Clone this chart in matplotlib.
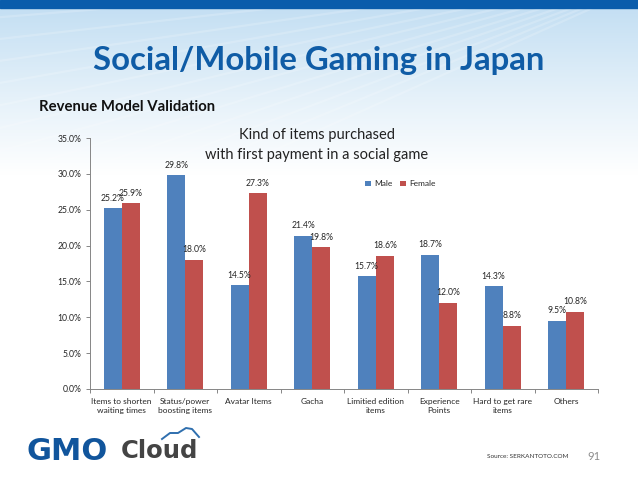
import matplotlib
matplotlib.use('Agg')

import numpy as np
import matplotlib.pyplot as plt
from matplotlib.colors import LinearSegmentedColormap
from matplotlib.patches import Rectangle

categories = ['Items to shorten\nwaiting times', 'Status/power\nboosting items', 'Avatar Items', 'Gacha',
              'Limitied edition\nitems', 'Experience\nPoints', 'Hard to get rare\nitems', 'Others']
male = [25.2, 29.8, 14.5, 21.4, 15.7, 18.7, 14.3, 9.5]
female = [25.9, 18.0, 27.3, 19.8, 18.6, 12.0, 8.8, 10.8]
yticks = [0, 5, 10, 15, 20, 25, 30, 35]

W, H = 638, 479
plt.rcParams['font.family'] = ['Lato', 'DejaVu Sans']

fig = plt.figure(figsize=(W / 100, H / 100), dpi=100)

# slide background, pixel coords with y going down
bg = fig.add_axes([0, 0, 1, 1])
bg.set_xlim(0, W)
bg.set_ylim(H, 0)
bg.axis('off')
cmap = LinearSegmentedColormap.from_list('sky', ['#c4dff3', '#e3f0f9', '#ffffff'])
grad = np.linspace(0, 1, 200).reshape(-1, 1)
bg.imshow(grad, cmap=cmap, extent=[0, W, 175, 8], aspect='auto', zorder=0)
bg.set_xlim(0, W)
bg.set_ylim(H, 0)
for a in np.linspace(0.02, 0.42, 14):
    bg.plot([700, 700 - 900 * np.cos(a)], [-40, -40 + 900 * np.sin(a)], color='white', lw=1.6, alpha=0.18, zorder=1)
bg.add_patch(Rectangle((0, 175), W, H - 175, color='white', zorder=2))
bg.add_patch(Rectangle((0, 0), W, 8, color='#0a5cab', zorder=3))

bg.text(319, 60, 'Social/Mobile Gaming in Japan', color='#0f5ca6', fontsize=23.7, fontweight='bold', ha='center', va='center', zorder=4)
bg.text(39, 107, 'Revenue Model Validation', color='#111111', fontsize=10.7, fontweight='bold', ha='left', va='center', zorder=4)
bg.text(317, 145, 'Kind of items purchased\nwith first payment in a social game', color='#222222', fontsize=10.5, ha='center', va='center', linespacing=1.5, zorder=4)

# footer
bg.text(27, 451, 'GMO', color='#11559c', fontsize=22, fontweight='bold', family='DejaVu Sans', ha='left', va='center', zorder=4)
bg.text(121, 451, 'Cloud', color='#444444', fontsize=17.5, fontweight='bold', family='DejaVu Sans', ha='left', va='center', zorder=4)
bg.plot([162, 170, 178, 186, 192, 199], [439, 433, 433, 428, 429, 437], color='#2f6fae', lw=1.4, zorder=4)
bg.text(528, 456, 'Source: SERKANTOTO.COM', color='#333333', fontsize=4.6, ha='center', va='center', zorder=4)
bg.text(594, 456, '91', color='#8c8c8c', fontsize=8, ha='center', va='center', zorder=4)

# chart
ax = fig.add_axes([90 / W, 1 - 389 / H, (598 - 90) / W, (389 - 138) / H])
ax.patch.set_alpha(0)
x = np.arange(len(categories))
w = 0.285
bars_m = ax.bar(x - w / 2, male, w, color='#4f81bd', label='Male')
bars_f = ax.bar(x + w / 2, female, w, color='#c0504d', label='Female')
for bars, vals in ((bars_m, male), (bars_f, female)):
    for bar, v in zip(bars, vals):
        ax.annotate(f'{v:.1f}%', (bar.get_x() + bar.get_width() / 2, v), xytext=(0, 7.2), textcoords='offset points',
                    ha='center', va='center', fontsize=6.2, color='#262626')

ax.set_xlim(-0.5, len(categories) - 0.5)
ax.set_ylim(0, 35)
ax.set_yticks(yticks)
ax.set_yticklabels([f'{t:.1f}%' for t in yticks], fontsize=6.2, color='#262626')
ax.set_xticks(np.arange(len(categories) + 1) - 0.5)
ax.set_xticklabels([])
ax.set_xticks(x, minor=True)
ax.set_xticklabels(categories, minor=True, fontsize=6, color='#262626', linespacing=1.4)
ax.tick_params(axis='x', which='minor', length=0, pad=6.5)
ax.tick_params(axis='both', which='major', length=3, width=0.7, color='#868686', pad=3)
ax.spines['top'].set_visible(False)
ax.spines['right'].set_visible(False)
for s in ('left', 'bottom'):
    ax.spines[s].set_color('#868686')
    ax.spines[s].set_linewidth(0.7)

ax.legend(loc='center', bbox_to_anchor=((400 - 90) / 508, (389 - 184) / 251), ncol=2, frameon=False, fontsize=6,
          handlelength=0.7, handleheight=0.7, handletextpad=0.4, columnspacing=0.9, labelcolor='#262626')

fig.savefig('out.png', dpi=100)
plt.close()
